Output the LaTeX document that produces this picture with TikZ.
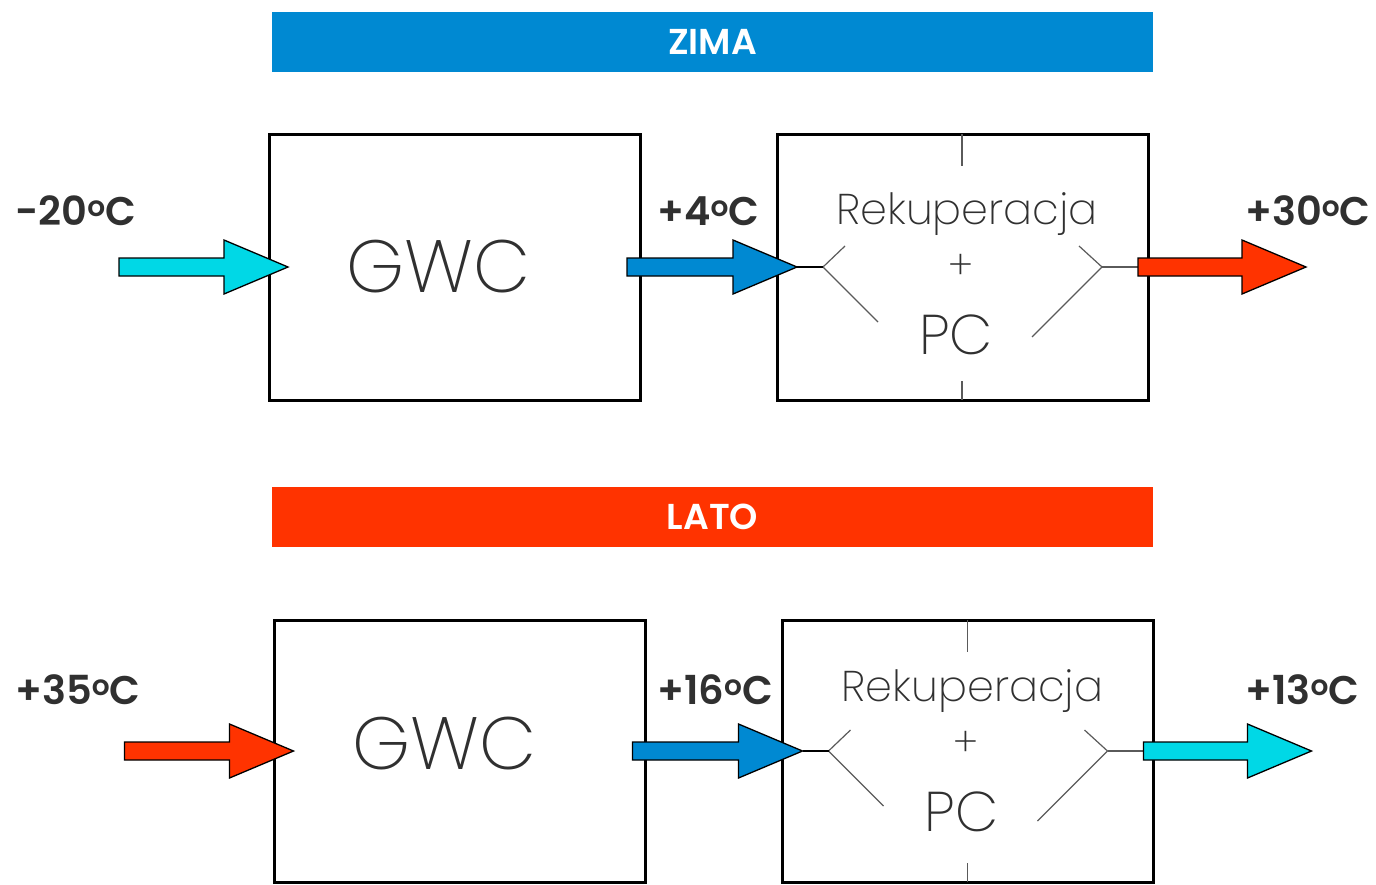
\documentclass[tikz,border=0pt]{standalone}
\usepackage{fontspec}
\setmainfont{Poppins}[BoldFont={Poppins SemiBold}]
\newfontfamily\lekki{Poppins ExtraLight}
\usetikzlibrary{calc}
\definecolor{niebieski}{HTML}{0089D2}
\definecolor{czerwony}{HTML}{FF3300}
\definecolor{turkus}{HTML}{00D8E6}
\definecolor{tekst}{HTML}{303030}
\definecolor{szary}{HTML}{5A5A5A}
\tikzset{
  blok/.style={draw=black,line width=3pt,minimum width=371pt,inner sep=0pt,outer sep=0pt},
  pasek/.style={fill=#1,minimum width=881pt,minimum height=60pt,inner sep=0pt,text=white,font=\bfseries\fontsize{36}{40}\selectfont},
  temp/.style={anchor=west,inner sep=0pt,text=tekst,font=\bfseries\fontsize{40}{44}\selectfont},
  napis/.style={inner sep=0pt,text=tekst},
  widelki/.style={draw=szary,line width=1.2pt},
}
\newcommand{\stopnie}{\raisebox{9pt}{\fontsize{28}{28}\selectfont o}C}
\newcommand{\strzalka}[3]{\filldraw[fill=#1,line width=1.3pt,line join=miter]
  ($(#2)+(0,-9)$) -- ($(#3)+(-64,-9)$) -- ($(#3)+(-64,-27)$) -- (#3) -- ($(#3)+(-64,27)$) -- ($(#3)+(-64,9)$) -- ($(#2)+(0,9)$) -- cycle;}
\begin{document}
\begin{tikzpicture}[x=1pt,y=-1pt]
\useasboundingbox (0,0) rectangle (1376,884);
\node[pasek=niebieski] (zima) at (712.5,42) {ZIMA};
\node[pasek=czerwony] (lato) at (712.5,517) {LATO};
\foreach \r/\dx/\dy/\h/\tq/\ly/\kin/\kout/\tin/\tmid/\tout in {1/0/0/266/0/211/turkus/czerwony/-20/+4/+30,2/5.5/484/262/-7/690/czerwony/turkus/+35/+16/+13}{
  \node[blok,minimum height=\h pt] (gwc\r) at (454.5+\dx,267+\dy) {};
  \node[blok,minimum height=\h pt] (rek\r) at (962.5+\dx,267+\dy) {};
  \coordinate (a\r) at ([xshift=-150]gwc\r.west);
  \coordinate (b\r) at ([xshift=19]gwc\r.west);
  \coordinate (c\r) at ([xshift=-13]gwc\r.east);
  \coordinate (d\r) at ([xshift=20]rek\r.west);
  \coordinate (e\r) at ([xshift=-10]rek\r.east);
  \coordinate (f\r) at ([xshift=158]rek\r.east);
  \coordinate (wl\r) at ([xshift=46]rek\r.west);
  \coordinate (wp\r) at ([xshift=-46]rek\r.east);
  \draw[widelki] ([shift={(22,-21)}]wl\r) -- (wl\r) -- ([shift={(55,55)}]wl\r);
  \draw[widelki] ([shift={(-23,-21)}]wp\r) -- (wp\r) -- ([shift={(-70,70)}]wp\r);
  \draw[widelki] (wp\r) -- (rek\r.east);
  \draw[line width=1.5pt] (d\r) -- (wl\r);
  \draw[widelki] ([xshift=-0.5]rek\r.north) -- ++(0,32);
  \draw[widelki] ([xshift=-0.5]rek\r.south) -- ++(0,-19);
  \strzalka{\kin}{a\r}{b\r}
  \strzalka{niebieski}{c\r}{d\r}
  \strzalka{\kout}{e\r}{f\r}
  \node[napis,font=\lekki\fontsize{74}{80}\selectfont] (gt\r) at ([shift={(-16,\tq)}]gwc\r.center) {GWC};
  \node[napis,font=\lekki\fontsize{43}{48}\selectfont] (rt\r) at ([shift={(4.5,\tq-53)}]rek\r.center) {Rekuperacja};
  \node[napis,font=\lekki\fontsize{40}{44}\selectfont] (pl\r) at ([shift={(-2,\tq)}]rek\r.center) {+};
  \node[napis,font=\lekki\fontsize{56}{60}\selectfont] (pc\r) at ([shift={(-6.5,\tq+68)}]rek\r.center) {PC};
  \node[temp] (ta\r) at (15,\ly) {\tin\stopnie};
  \node[temp] (tb\r) at (657,\ly) {\tmid\stopnie};
  \node[temp] (tc\r) at (1245,\ly) {\tout\stopnie};
}
\end{tikzpicture}
\end{document}
